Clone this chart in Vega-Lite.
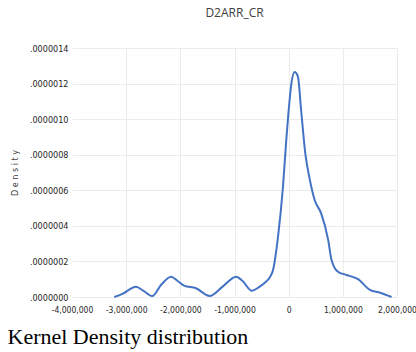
{
  "$schema": "https://vega.github.io/schema/vega-lite/v6.json",
  "autosize": "none",
  "width": 325,
  "height": 249,
  "padding": {"left": 72, "top": 48, "right": 19, "bottom": 55},
  "background": "white",
  "title": {"text": "D2ARR_CR", "font": "Open Sans", "fontSize": 12, "fontWeight": "normal", "color": "#404040", "offset": 24},
  "config": {"view": {"stroke": null}},
  "data": {"values": [
    {"x": -3220000, "d": 0.0},
    {"x": -3050000, "d": 0.02},
    {"x": -2950000, "d": 0.04},
    {"x": -2820000, "d": 0.058},
    {"x": -2680000, "d": 0.035},
    {"x": -2520000, "d": 0.005},
    {"x": -2350000, "d": 0.07},
    {"x": -2170000, "d": 0.114},
    {"x": -2050000, "d": 0.09},
    {"x": -1930000, "d": 0.064},
    {"x": -1710000, "d": 0.049},
    {"x": -1460000, "d": 0.006},
    {"x": -1220000, "d": 0.058},
    {"x": -970000, "d": 0.114},
    {"x": -850000, "d": 0.09},
    {"x": -680000, "d": 0.035},
    {"x": -550000, "d": 0.055},
    {"x": -440000, "d": 0.08},
    {"x": -350000, "d": 0.11},
    {"x": -290000, "d": 0.15},
    {"x": -200000, "d": 0.33},
    {"x": -105000, "d": 0.62},
    {"x": -40000, "d": 0.9},
    {"x": 0, "d": 1.05},
    {"x": 50000, "d": 1.2},
    {"x": 110000, "d": 1.265},
    {"x": 170000, "d": 1.24},
    {"x": 230000, "d": 1.05},
    {"x": 310000, "d": 0.8},
    {"x": 390000, "d": 0.66},
    {"x": 480000, "d": 0.545},
    {"x": 600000, "d": 0.47},
    {"x": 730000, "d": 0.32},
    {"x": 790000, "d": 0.21},
    {"x": 910000, "d": 0.142},
    {"x": 1070000, "d": 0.124},
    {"x": 1280000, "d": 0.1},
    {"x": 1500000, "d": 0.04},
    {"x": 1690000, "d": 0.024},
    {"x": 1900000, "d": 0.0}
  ]},
  "mark": {"type": "line", "color": "#4472C4", "strokeWidth": 2, "interpolate": "monotone"},
  "encoding": {
    "x": {
      "field": "x", "type": "quantitative",
      "scale": {"domain": [-4000000, 2000000], "nice": false, "zero": false},
      "axis": {
        "values": [-4000000, -3000000, -2000000, -1000000, 0, 1000000, 2000000],
        "labelExpr": "replace(format(datum.value, ','), '−', '-')",
        "labelOverlap": false, "labelFlush": false, "labelBound": false,
        "domain": false, "ticks": false,
        "grid": true, "gridColor": "#ebebeb",
        "gridOpacity": {"condition": {"test": "datum.value == -4000000", "value": 0}, "value": 1},
        "labelFont": "DejaVu Sans Condensed", "labelFontSize": 8.5, "labelColor": "#262626", "labelPadding": 8,
        "title": "Kernel Density distribution",
        "titleFont": "Liberation Serif", "titleFontSize": 22, "titleFontWeight": "normal", "titleColor": "#000000",
        "titleX": -65, "titleY": 46, "titleAlign": "left", "titleBaseline": "alphabetic", "titleAnchor": "start"
      }
    },
    "y": {
      "field": "d", "type": "quantitative",
      "scale": {"domain": [0, 1.4], "nice": false},
      "axis": {
        "values": [0, 0.2, 0.4, 0.6, 0.8, 1.0, 1.2, 1.4],
        "labelExpr": "substring(format(datum.value / 1000000, '.7f'), 1)",
        "labelOverlap": false,
        "domain": false, "ticks": false,
        "grid": true, "gridColor": "#ebebeb",
        "labelFont": "DejaVu Sans Condensed", "labelFontSize": 9, "labelColor": "#262626", "labelPadding": 4,
        "title": "D e n s i t y",
        "titleFont": "DejaVu Sans Condensed", "titleFontSize": 9, "titleFontWeight": "normal", "titleColor": "#404040",
        "titlePadding": 10
      }
    }
  }
}
